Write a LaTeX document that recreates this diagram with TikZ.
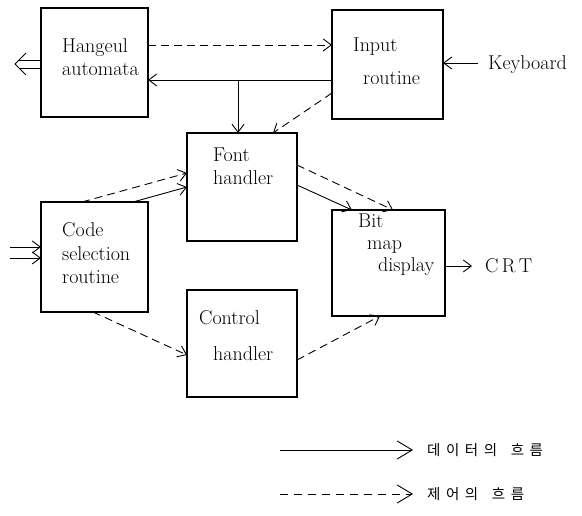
\documentclass[tikz,border=0pt]{standalone}
\usepackage{fontspec}
\newfontfamily\krfont[LetterSpace=38]{Noto Sans CJK KR}
\usetikzlibrary{arrows.meta,calc}

\tikzset{
  box/.style={draw, line width=1.1pt, inner sep=0pt, outer sep=0pt, anchor=north west},
  txt/.style={inner sep=0pt, anchor=base west, font=\fontsize{20}{24}\selectfont},
  dat/.style={line width=0.9pt, -{Straight Barb[length=8pt,width=12pt]}},
  ctl/.style={dat, dash pattern=on 8pt off 5pt},
  bighead/.style={-{Straight Barb[length=15pt,width=18pt]}},
  legend/.style={inner sep=0pt, anchor=west, font=\fontsize{14.5}{17}\krfont},
}

\begin{document}
\begin{tikzpicture}[x=1pt, y=-1pt]
\useasboundingbox (0,0) rectangle (582,516);

% boxes
\node[box, minimum width=107pt, minimum height=109pt] (hang) at (41,8) {};
\node[box, minimum width=111pt, minimum height=109pt] (inp)  at (332,10) {};
\node[box, minimum width=110pt, minimum height=108pt] (font) at (187,133) {};
\node[box, minimum width=107pt, minimum height=110pt] (code) at (41,202) {};
\node[box, minimum width=110pt, minimum height=107pt] (ctrl) at (187,290) {};
\node[box, minimum width=113pt, minimum height=106pt] (bmap) at (332,210) {};

% box texts
\node[txt] (t1) at (62,53) {Hangeul};
\node[txt] (t2) at (62,76) {automata};
\node[txt] (t3) at (353,52) {Input};
\node[txt] (t4) at (363,85) {routine};
\node[txt] (t5) at (213,162) {Font};
\node[txt] (t6) at (213,185) {handler};
\node[txt] (t7) at (62,237) {Code};
\node[txt] (t8) at (62,261) {selection};
\node[txt] (t9) at (62,284) {routine};
\node[txt] (t10) at (199,325) {Control};
\node[txt] (t11) at (213,360) {handler};
\node[txt] (t12) at (358,228) {Bit};
\node[txt] (t13) at (367,250) {map};
\node[txt] (t14) at (378,272) {display};

% outside labels
\node[txt] (kb)  at (488,70) {Keyboard};
\node[txt] (crt) at (485,273) {C\,R\,T};

% free ends
\coordinate (hout) at (15,64);
\coordinate (hout1) at (19,60);
\coordinate (hout2) at (19,68);
\coordinate (cin1) at (10,247);
\coordinate (cin2) at (10,258);
\coordinate (br) at (238,80);
\coordinate (y45) at (0,45);
\coordinate (y63) at (0,63);
\coordinate (y266) at (0,266);

% connectors between the upper boxes
\draw[ctl] (hang.east |- y45) -- (inp.west |- y45);
\draw[dat] (inp.west |- br) -- (hang.east |- br);
\draw[dat] (br) -- (br |- font.north);
\draw[ctl] ($(inp.north west)+(0,83)$) -- ($(font.north west)+(86,0)$);
\draw[dat, shorten <=10pt] (kb.west |- y63) -- (inp.east |- y63);

% Hangeul output: double-line arrow
\draw[line width=0.9pt] (hang.west |- hout1) -- (hout1);
\draw[line width=0.9pt] (hang.west |- hout2) -- (hout2);
\draw[line width=0.9pt] ($(hout)+(11,-11)$) -- (hout) -- ($(hout)+(11,11)$);

% code selection inputs
\draw[dat] (cin1) -- (code.west |- cin1);
\draw[dat] (cin2) -- (code.west |- cin2);

% code selection to handlers
\draw[ctl] ($(code.north west)+(41,0)$) -- ($(font.north west)+(0,40)$);
\draw[dat] ($(code.north west)+(92,0)$) -- ($(font.north west)+(0,54)$);
\draw[ctl] ($(code.south west)+(52,0)$) -- ($(ctrl.north west)+(0,65)$);

% handlers to bit map display
\draw[dat] ($(font.north east)+(0,52)$) -- ($(bmap.north west)+(20,0)$);
\draw[ctl] ($(font.north east)+(0,32)$) -- ($(bmap.north west)+(61,0)$);
\draw[ctl] ($(ctrl.north east)+(0,70)$) -- ($(bmap.south west)+(48,0)$);

% display output
\draw[dat, shorten >=13pt] (bmap.east |- y266) -- (crt.west |- y266);

% legend
\coordinate (la) at (280,450);
\coordinate (lb) at (280,494);
\node[legend] (lg1) at (427,450) {데이터의\hspace{5pt} 흐름};
\node[legend] (lg2) at (427,494) {제어의\hspace{5pt} 흐름};
\draw[line width=0.9pt, bighead, shorten >=14pt] (la) -- (lg1.west);
\draw[line width=0.9pt, bighead, dash pattern=on 8pt off 6pt, shorten >=14pt] (lb) -- (lg2.west);
\end{tikzpicture}
\end{document}
